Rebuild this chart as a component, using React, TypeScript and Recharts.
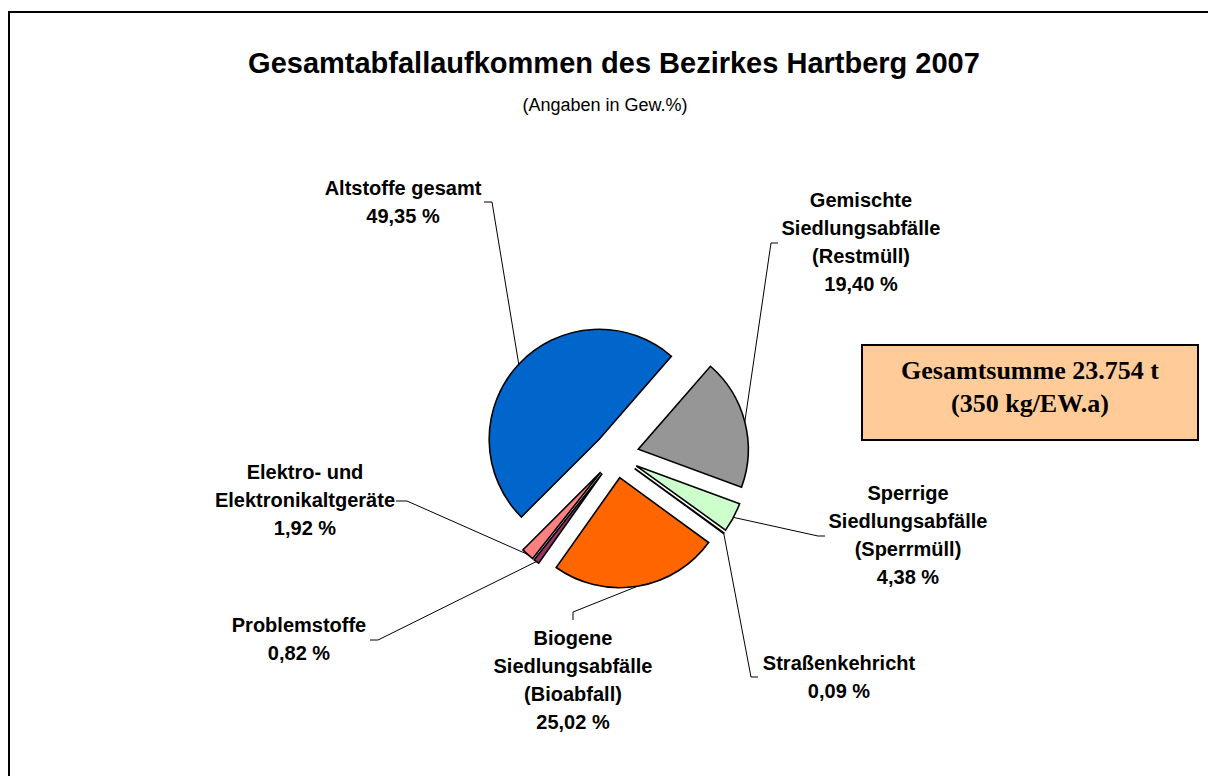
import { PieChart, Pie, Cell } from "recharts";

document.body.style.margin = "0";

// Werte in Gew.-%, Reihenfolge wie im Diagramm (im Uhrzeigersinn)
const categories = [
  "Gemischte Siedlungsabfälle (Restmüll)",
  "Sperrige Siedlungsabfälle (Sperrmüll)",
  "Straßenkehricht",
  "Biogene Siedlungsabfälle (Bioabfall)",
  "Problemstoffe",
  "Elektro- und Elektronikaltgeräte",
  "Altstoffe gesamt",
];
const labelLines = [
  ["Gemischte", "Siedlungsabfälle", "(Restmüll)"],
  ["Sperrige", "Siedlungsabfälle", "(Sperrmüll)"],
  ["Straßenkehricht"],
  ["Biogene", "Siedlungsabfälle", "(Bioabfall)"],
  ["Problemstoffe"],
  ["Elektro- und", "Elektronikaltgeräte"],
  ["Altstoffe gesamt"],
];
const shares = [19.4, 4.38, 0.09, 25.02, 0.82, 1.92, 49.35];
const colors = ["#969696", "#CCFFCC", "#FFFFFF", "#FF6600", "#993366", "#FF8080", "#0066CC"];

const title = "Gesamtabfallaufkommen des Bezirkes Hartberg 2007";
const subtitle = "(Angaben in Gew.%)";
const totalLines = ["Gesamtsumme 23.754 t", "(350 kg/EW.a)"];

// label placement (text centre x, first baseline y, leader bend points)
const labelPos = [
  { x: 861, y: 207, path: [[771, 243], [778, 243]] },
  { x: 908, y: 500, path: [[818, 536], [825, 536]] },
  { x: 839, y: 670, path: [[751, 677], [758, 677]] },
  { x: 573, y: 645, path: [[573, 612], [573, 620]] },
  { x: 299, y: 632, path: [[378, 640], [370, 640]] },
  { x: 305, y: 479, path: [[407, 501], [396, 501]] },
  { x: 403, y: 195, path: [[492, 202], [484, 202]] },
];

const W = 1208;
const H = 776;
const CX = 611;
const CY = 450;
const R = 110;
const EXPLODE = 23;
const START = 49;
const RADIAN = Math.PI / 180;
const FONT = "'Liberation Sans', Arial, sans-serif";

const data = categories.map((name, i) => ({ name, value: shares[i] }));
const total = shares.reduce((a, b) => a + b, 0);

const midAngles: number[] = [];
let acc = 0;
shares.forEach((v) => {
  const a = (v / total) * 360;
  midAngles.push(START - acc - a / 2);
  acc += a;
});

const fmt = (v: number) => v.toFixed(2).replace(".", ",") + " %";

function renderLabel(p: any, i: number) {
  if (p.index !== i) return <g />;
  const pos = labelPos[i];
  const x0 = p.cx + p.outerRadius * Math.cos(-p.midAngle * RADIAN);
  const y0 = p.cy + p.outerRadius * Math.sin(-p.midAngle * RADIAN);
  const pts = [[x0, y0], ...pos.path].map((q) => q.join(",")).join(" ");
  const lines = [...labelLines[i], fmt(shares[i])];
  return (
    <g>
      <polyline points={pts} fill="none" stroke="#000" strokeWidth={1} />
      <text
        x={pos.x}
        y={pos.y}
        textAnchor="middle"
        fontFamily={FONT}
        fontWeight="bold"
        fontSize={20}
        fill="#000"
      >
        {lines.map((l, k) => (
          <tspan key={k} x={pos.x} y={pos.y + k * 28}>
            {l}
          </tspan>
        ))}
      </text>
    </g>
  );
}

export default function App() {
  return (
    <div style={{ position: "relative", width: W, height: H, overflow: "hidden", background: "#fff" }}>
      <svg width={W} height={H} style={{ position: "absolute", left: 0, top: 0 }}>
        <rect x={9} y={12} width={1400} height={1000} fill="#fff" stroke="#000" strokeWidth={2} />
        <text x={614} y={73} textAnchor="middle" fontFamily={FONT} fontWeight="bold" fontSize={29}>
          {title}
        </text>
        <text x={605} y={111} textAnchor="middle" fontFamily={FONT} fontSize={18}>
          {subtitle}
        </text>
        <rect x={862} y={345} width={336} height={95} fill="#FFCC99" stroke="#000" strokeWidth={2} />
        {totalLines.map((l, k) => (
          <text
            key={k}
            x={1030}
            y={379 + k * 33}
            textAnchor="middle"
            fontFamily="'Liberation Serif', 'Times New Roman', serif"
            fontWeight="bold"
            fontSize={26}
          >
            {l}
          </text>
        ))}
      </svg>
      <div style={{ position: "absolute", left: 0, top: 0 }}>
        <PieChart width={W} height={H}>
          {data.map((d, i) => {
            const rad = midAngles[i] * RADIAN;
            return (
              <Pie
                key={d.name}
                data={data}
                dataKey="value"
                nameKey="name"
                cx={CX + EXPLODE * Math.cos(rad)}
                cy={CY - EXPLODE * Math.sin(rad)}
                outerRadius={R}
                startAngle={START}
                endAngle={START - 360}
                isAnimationActive={false}
                labelLine={false}
                label={(p: any) => renderLabel(p, i)}
              >
                {data.map((_, j) => (
                  <Cell
                    key={j}
                    fill={j === i ? colors[j] : "none"}
                    stroke={j === i ? "#000" : "none"}
                    strokeWidth={1.6}
                  />
                ))}
              </Pie>
            );
          })}
        </PieChart>
      </div>
    </div>
  );
}
